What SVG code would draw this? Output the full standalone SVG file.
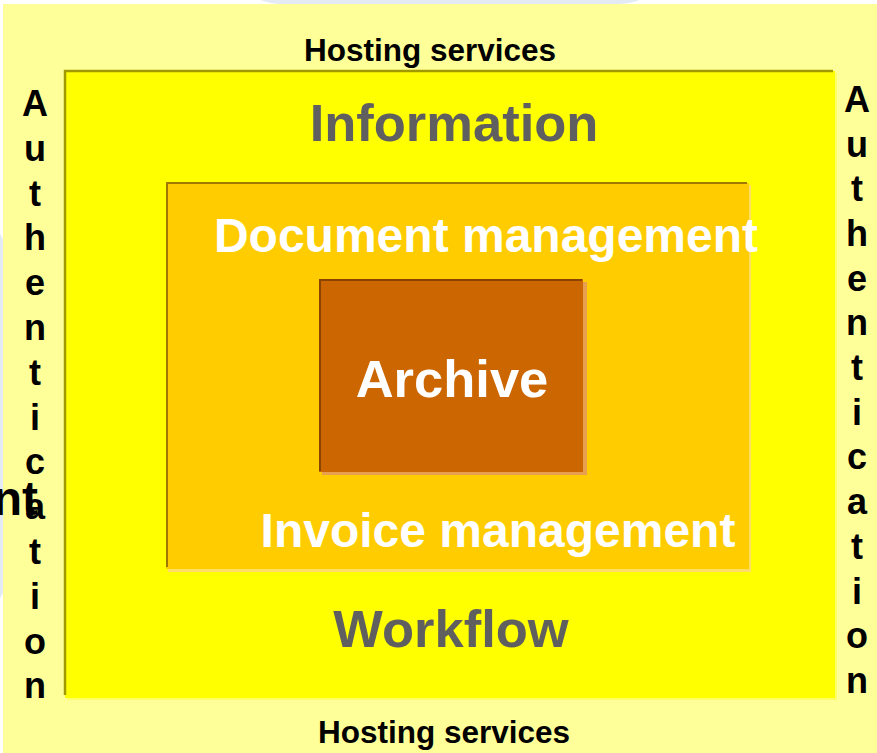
<svg xmlns="http://www.w3.org/2000/svg" width="877" height="753" viewBox="0 0 877 753">
<style>
.host{font-family:"Liberation Sans",Arial,sans-serif;font-weight:bold;font-size:31.5px;fill:#000;text-anchor:middle}
.gray{font-family:"Liberation Sans",Arial,sans-serif;font-weight:bold;font-size:52.5px;fill:#5f5f5f;text-anchor:middle}
.white{font-family:"Liberation Sans",Arial,sans-serif;font-weight:bold;fill:#fff;text-anchor:middle}
.auth{font-family:"Liberation Sans",Arial,sans-serif;font-weight:bold;font-size:36px;fill:#000;text-anchor:middle}
</style>
<rect x="0" y="0" width="877" height="753" fill="#ffffff"/>
<rect x="240" y="-60" width="420" height="64" rx="40" fill="#e4eaf4"/>
<rect x="-40" y="226" width="44" height="380" rx="20" fill="#e4eaf4"/>
<rect x="3" y="4" width="874" height="749" fill="#ffff99"/>
<text x="38" y="515" font-family="Liberation Sans,Arial,sans-serif" font-weight="bold" font-size="48" text-anchor="end" fill="#000">nt</text>

<g id="hosting-top"><text class="host" x="430" y="61">Hosting services</text></g>
<g id="hosting-bottom"><text class="host" x="444" y="743">Hosting services</text></g>

<g id="auth-left">
<text class="auth" x="35" y="116">A</text>
<text class="auth" x="35" y="161">u</text>
<text class="auth" x="35" y="206">t</text>
<text class="auth" x="35" y="250">h</text>
<text class="auth" x="35" y="295">e</text>
<text class="auth" x="35" y="340">n</text>
<text class="auth" x="35" y="385">t</text>
<text class="auth" x="35" y="430">i</text>
<text class="auth" x="35" y="474">c</text>
<text class="auth" x="35" y="519">a</text>
<text class="auth" x="35" y="564">t</text>
<text class="auth" x="35" y="609">i</text>
<text class="auth" x="35" y="654">o</text>
<text class="auth" x="35" y="698">n</text>
</g>
<g id="auth-right">
<text class="auth" x="857" y="112">A</text>
<text class="auth" x="857" y="157">u</text>
<text class="auth" x="857" y="201">t</text>
<text class="auth" x="857" y="246">h</text>
<text class="auth" x="857" y="291">e</text>
<text class="auth" x="857" y="335">n</text>
<text class="auth" x="857" y="380">t</text>
<text class="auth" x="857" y="425">i</text>
<text class="auth" x="857" y="469">c</text>
<text class="auth" x="857" y="514">a</text>
<text class="auth" x="857" y="559">t</text>
<text class="auth" x="857" y="604">i</text>
<text class="auth" x="857" y="648">o</text>
<text class="auth" x="857" y="693">n</text>
</g>

<g id="information">
<rect x="67" y="73" width="770" height="627" fill="#ffff66"/>
<rect x="65" y="71" width="770" height="627" fill="#ffff00"/>
<path d="M65 695 V71 H833" fill="none" stroke="#a09a00" stroke-width="2.5"/>
<text class="gray" x="454" y="141">Information</text>
<text class="gray" x="451" y="647">Workflow</text>
</g>

<g id="document-management">
<rect x="168" y="185" width="583" height="387" fill="#ffdd66"/>
<rect x="166" y="183" width="583" height="386" fill="#ffcc00"/>
<path d="M167 567 V183 H747" fill="none" stroke="#a07800" stroke-width="2"/>
<text class="white" x="486" y="252" font-size="48">Document management</text>
<text class="white" x="498" y="547" font-size="48">Invoice management</text>
</g>

<g id="archive">
<rect x="322" y="282" width="265" height="193" fill="#e8a050"/>
<rect x="319" y="279" width="264" height="193" fill="#cc6600"/>
<path d="M320 471 V280 H582" fill="none" stroke="#884400" stroke-width="2"/>
<text class="white" x="452" y="397" font-size="52.5">Archive</text>
</g>
</svg>
